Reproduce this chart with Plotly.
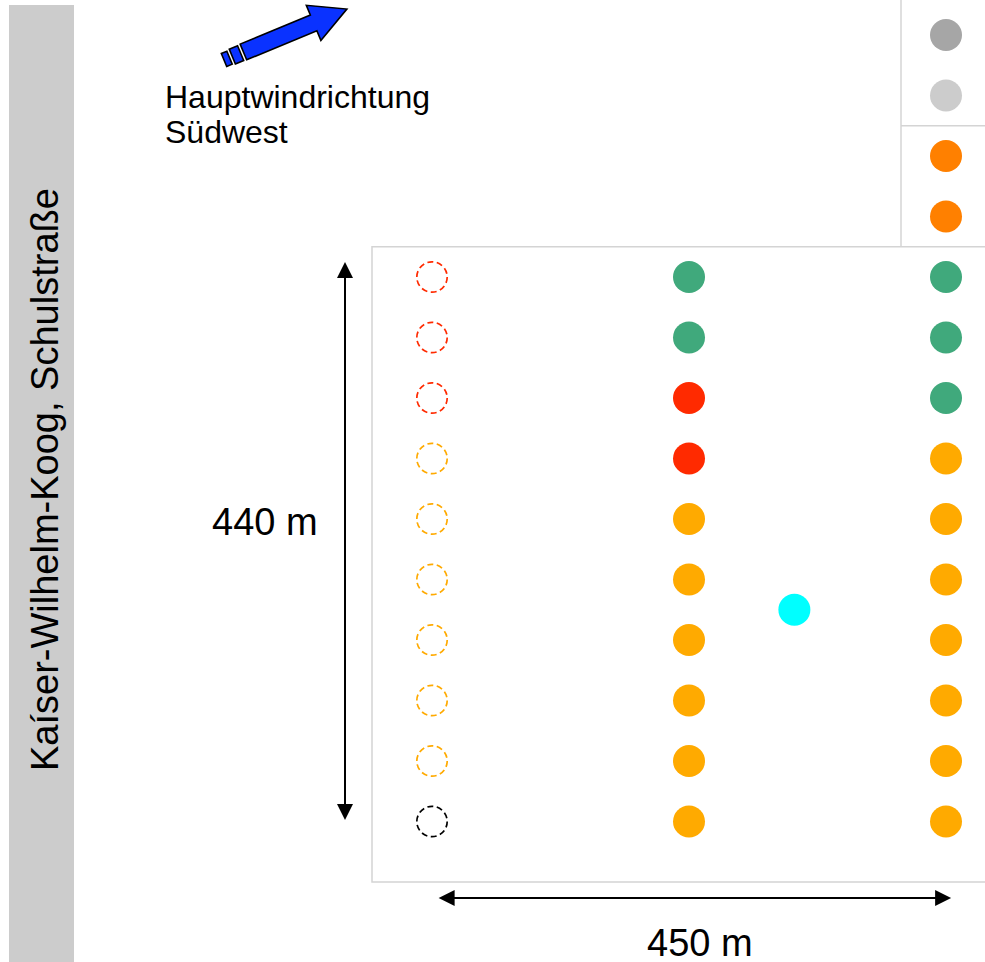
import numpy as np
import plotly.graph_objects as go

# ---------------- data (grid positions: column index, row index) ----------------
# dashed (open) circles in column 0
dashed_cols = [0, 0, 0, 0, 0, 0, 0, 0, 0, 0]
dashed_rows = [4, 5, 6, 7, 8, 9, 10, 11, 12, 13]
dashed_colors = ["#ff2a00", "#ff2a00", "#ff2a00",
                 "#ffaa00", "#ffaa00", "#ffaa00", "#ffaa00", "#ffaa00", "#ffaa00",
                 "#000000"]

# filled circles, column 1
col1_cols = [1] * 10
col1_rows = [4, 5, 6, 7, 8, 9, 10, 11, 12, 13]
col1_colors = ["#40a97c", "#40a97c", "#ff2a00", "#ff2a00",
               "#ffaa00", "#ffaa00", "#ffaa00", "#ffaa00", "#ffaa00", "#ffaa00"]

# filled circles, column 2
col2_cols = [2] * 14
col2_rows = [0, 1, 2, 3, 4, 5, 6, 7, 8, 9, 10, 11, 12, 13]
col2_colors = ["#a6a6a6", "#cccccc", "#ff8000", "#ff8000",
               "#40a97c", "#40a97c", "#40a97c",
               "#ffaa00", "#ffaa00", "#ffaa00", "#ffaa00", "#ffaa00", "#ffaa00", "#ffaa00"]

# single cyan point
extra_cols = [1.41]
extra_rows = [9.5]
extra_colors = ["#00ffff"]

# texts
street_label = "Kaíser-Wilhelm-Koog, Schulstraße"
wind_label_1 = "Hauptwindrichtung"
wind_label_2 = "Südwest"
height_label = "440 m"
width_label = "450 m"

# ---------------- layout helpers ----------------
W, H = 985, 962
PX_X, ORG_X = 257.0, 432.0      # pixels per column, pixel of column 0
PX_Y, ORG_Y = 60.5, 35.0        # pixels per row, pixel of row 0


def gx(px):
    return (px - ORG_X) / PX_X


def gy(py):
    return (py - ORG_Y) / PX_Y


FONT = "Liberation Sans, Arial, sans-serif"

fig = go.Figure()

shapes = []
# grey band on the left
shapes.append(dict(type="rect", xref="x", yref="y", x0=gx(9), x1=gx(74), y0=gy(5), y1=gy(980),
                   fillcolor="#cccccc", line=dict(width=0), layer="below"))
# main field frame
shapes.append(dict(type="rect", xref="x", yref="y", x0=gx(372), x1=gx(1000), y0=3.5, y1=14.0,
                   fillcolor="rgba(0,0,0,0)", line=dict(color="#d4d4d4", width=1.5), layer="below"))
# top-right box lines
shapes.append(dict(type="line", xref="x", yref="y", x0=gx(901), x1=gx(901), y0=gy(-5), y1=3.5,
                   line=dict(color="#d4d4d4", width=1.5), layer="below"))
shapes.append(dict(type="line", xref="x", yref="y", x0=gx(901), x1=gx(1000), y0=1.5, y1=1.5,
                   line=dict(color="#d4d4d4", width=1.5), layer="below"))

# dashed open circles
R = 15.2
for c, r, col in zip(dashed_cols, dashed_rows, dashed_colors):
    shapes.append(dict(type="circle", xref="x", yref="y", xsizemode="pixel", ysizemode="pixel",
                       xanchor=c, yanchor=r, x0=-R, x1=R, y0=-R, y1=R,
                       line=dict(color=col, width=1.7, dash="6px,3.5px"),
                       fillcolor="rgba(0,0,0,0)"))

# blue wind arrow (pixel geometry around anchor at tail)
ang = np.arctan2(51, 123)
ca, sa = np.cos(ang), np.sin(ang)


def poly(pts):
    s = ""
    for i, (u, v) in enumerate(pts):
        x = u * ca - v * sa
        y = u * sa + v * ca
        s += ("M" if i == 0 else "L") + f"{x:.2f},{y:.2f}"
    return s + "Z"


parts = [
    [(0, -7), (6, -7), (6, 7), (0, 7)],
    [(9, -8), (18, -8), (18, 8), (9, 8)],
    [(21, -8.5), (97, -8.5), (97, -19), (133, 0), (97, 19), (97, 8.5), (21, 8.5)],
]
path = "".join(poly(p) for p in parts)
shapes.append(dict(type="path", xref="x", yref="y", xsizemode="pixel", ysizemode="pixel",
                   xanchor=gx(224), yanchor=gy(60), path=path,
                   fillcolor="#0a32ff", line=dict(color="#000000", width=1.6)))

# filled circles
for cols, rows, colors in [(col1_cols, col1_rows, col1_colors),
                           (col2_cols, col2_rows, col2_colors),
                           (extra_cols, extra_rows, extra_colors)]:
    fig.add_trace(go.Scatter(x=cols, y=rows, mode="markers",
                             marker=dict(size=32, color=colors, line=dict(width=0)),
                             hoverinfo="skip", showlegend=False))

annotations = []
# scale arrows
annotations.append(dict(x=gx(345), y=3.75, ax=gx(345), ay=13.0, xref="x", yref="y",
                        axref="x", ayref="y", text="", showarrow=True, arrowhead=2,
                        arrowside="end+start", arrowsize=1.6, arrowwidth=2,
                        arrowcolor="#000000", standoff=0, startstandoff=0, startarrowhead=2,
                        startarrowsize=1.6))
annotations.append(dict(x=2.02, y=gy(898), ax=0.02, ay=gy(898), xref="x", yref="y",
                        axref="x", ayref="y", text="", showarrow=True, arrowhead=2,
                        arrowside="end+start", arrowsize=1.6, arrowwidth=2,
                        arrowcolor="#000000", standoff=0, startstandoff=0, startarrowhead=2,
                        startarrowsize=1.6))
# labels
annotations.append(dict(x=gx(265), y=gy(522), xref="x", yref="y", text=height_label,
                        showarrow=False, font=dict(family=FONT, size=38, color="#000000")))
annotations.append(dict(x=gx(700), y=gy(943), xref="x", yref="y", text=width_label,
                        showarrow=False, font=dict(family=FONT, size=38, color="#000000")))
annotations.append(dict(x=gx(163), y=gy(97), xref="x", yref="y", text=wind_label_1,
                        xanchor="left", showarrow=False,
                        font=dict(family=FONT, size=32, color="#000000")))
annotations.append(dict(x=gx(163), y=gy(132), xref="x", yref="y", text=wind_label_2,
                        xanchor="left", showarrow=False,
                        font=dict(family=FONT, size=32, color="#000000")))
annotations.append(dict(x=gx(45), y=gy(480), xref="x", yref="y", text=street_label,
                        textangle=-90, showarrow=False,
                        font=dict(family=FONT, size=38, color="#000000")))

fig.update_layout(
    width=W, height=H,
    margin=dict(l=0, r=0, t=0, b=0),
    paper_bgcolor="#ffffff", plot_bgcolor="#ffffff",
    xaxis=dict(range=[gx(0), gx(W)], visible=False, fixedrange=True),
    yaxis=dict(range=[gy(H), gy(0)], visible=False, fixedrange=True),
    shapes=shapes, annotations=annotations,
)

fig.write_html("out.html", config={"displayModeBar": False},
               post_script="document.body.style.margin='0';document.body.style.overflow='hidden';")
